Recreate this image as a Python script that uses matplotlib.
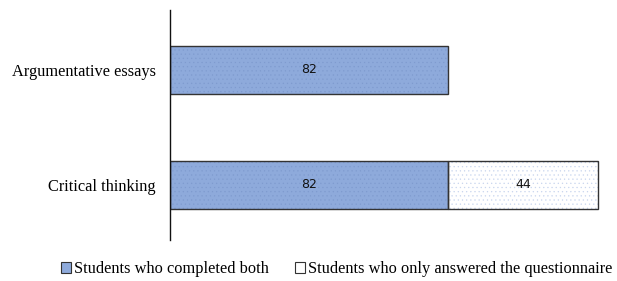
import matplotlib
matplotlib.use("Agg")
import matplotlib.pyplot as plt
from matplotlib.patches import Patch

categories = ["Critical thinking", "Argumentative essays"]
completed_both = [82, 82]
only_questionnaire = [44, 0]
series_names = ["Students who completed both", "Students who only answered the questionnaire"]

fig = plt.figure(figsize=(6.17, 2.81), dpi=100)
ax = fig.add_axes([0.2755, 0.146, 0.715, 0.818])

ypos = list(range(len(categories)))
h = 0.42
blue = "#8eaadb"

plt.rcParams['hatch.linewidth'] = 0.4
ax.barh(ypos, completed_both, height=h, color=blue, edgecolor="#7f9bcf", hatch="....", linewidth=0)
ax.barh(ypos, only_questionnaire, left=completed_both, height=h, color="white",
        edgecolor="#c9d6ee", hatch="....", linewidth=0)
ax.barh(ypos, completed_both, height=h, fill=False, edgecolor="#333333", linewidth=1.0)
for y, b, o in zip(ypos, completed_both, only_questionnaire):
    if o > 0:
        ax.barh(y, o, left=b, height=h, fill=False, edgecolor="#333333", linewidth=1.0)

for y, b, o in zip(ypos, completed_both, only_questionnaire):
    ax.text(b / 2, y, str(b), ha="center", va="center", fontsize=9, family="DejaVu Sans", color="#111111")
    if o > 0:
        ax.text(b + o / 2, y, str(o), ha="center", va="center", fontsize=9, family="DejaVu Sans", color="#111111")

ax.set_xlim(0, 130)
ax.set_ylim(-0.48, 1.52)
ax.set_yticks(ypos)
ax.set_yticklabels(categories, family="Liberation Serif", fontsize=11.8)
ax.tick_params(axis="y", length=0, pad=10)
ax.set_xticks([])
for s in ["top", "right", "bottom"]:
    ax.spines[s].set_visible(False)
ax.spines["left"].set_color("#111111")
ax.spines["left"].set_linewidth(1.0)

handles = [Patch(facecolor=blue, edgecolor="#333333", linewidth=0.8),
           Patch(facecolor="white", edgecolor="#333333", linewidth=0.8)]
fig.legend(handles, series_names, loc="center", bbox_to_anchor=(0.546, 0.042), ncol=2,
           frameon=False, prop={"family": "Liberation Serif", "size": 11.8},
           handlelength=0.6, handleheight=0.6, handletextpad=0.2, columnspacing=1.6)

fig.savefig("out.png", dpi=100)
